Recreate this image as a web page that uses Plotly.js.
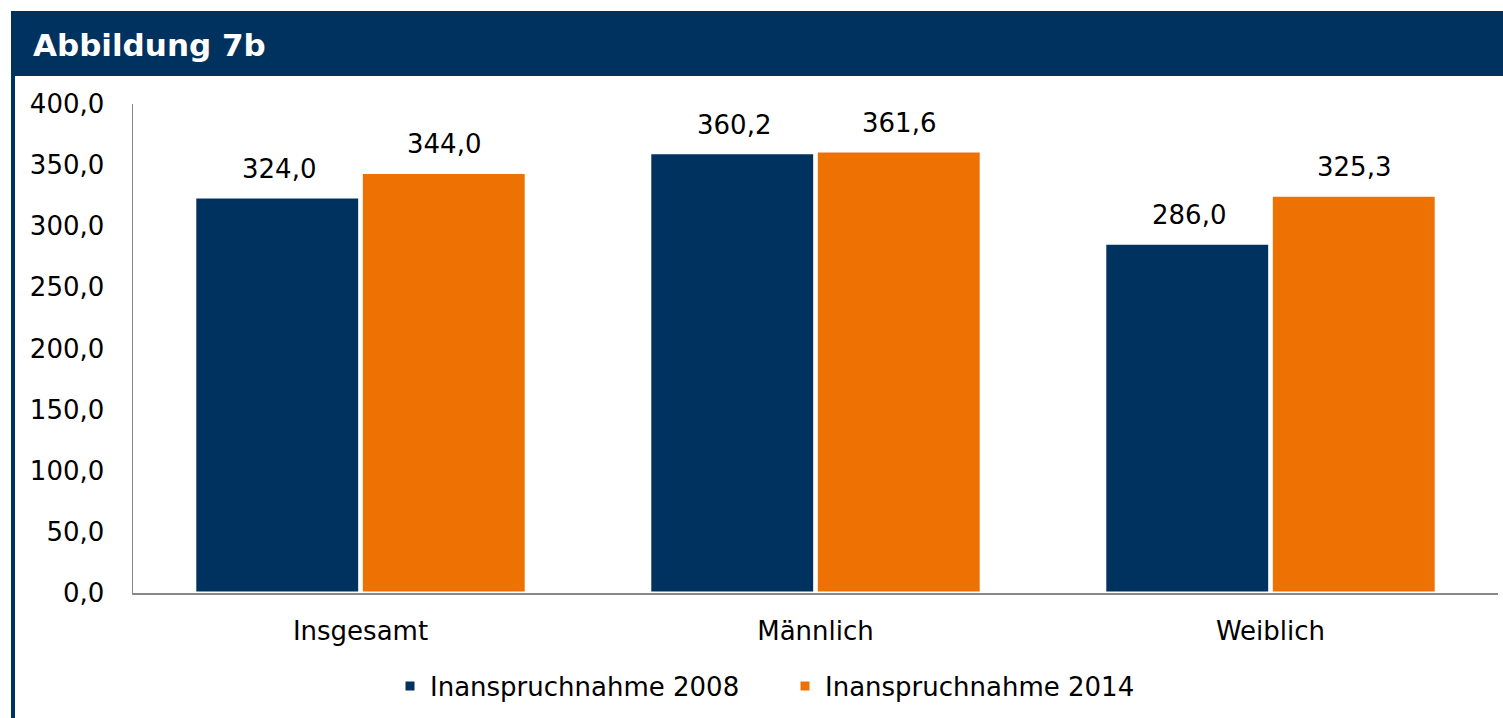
<!DOCTYPE html>
<html>
<head>
<meta charset="utf-8">
<script src="https://cdn.plot.ly/plotly-3.0.1.min.js"></script>
<style>html,body{margin:0;padding:0;background:#fff;}#chart{width:1503px;height:718px;}</style>
</head>
<body>
<div id="chart"></div>
<script>
const categories = ["Insgesamt", "Männlich", "Weiblich"];
const seriesNames = ["Inanspruchnahme 2008", "Inanspruchnahme 2014"];
const values2008 = [324.0, 360.2, 286.0];
const values2014 = [344.0, 361.6, 325.3];
const yTicks = [0, 50, 100, 150, 200, 250, 300, 350, 400];

const NAVY = "#00325F";
const ORANGE = "#EE7203";
const FONT = "DejaVu Sans, Verdana, sans-serif";

function fmt(v) { return v.toFixed(1).replace(".", ","); }

const traces = [
  {type: "bar", name: seriesNames[0], x: categories, y: values2008,
   marker: {color: NAVY, line: {color: "#ffffff", width: 3}}, hoverinfo: "none"},
  {type: "bar", name: seriesNames[1], x: categories, y: values2014,
   marker: {color: ORANGE, line: {color: "#ffffff", width: 3}}, hoverinfo: "none"}
];

const annotations = [];
[values2008, values2014].forEach((vals, si) => {
  vals.forEach((v, i) => {
    annotations.push({
      x: categories[i], y: v, xref: "x", yref: "y",
      text: fmt(v), showarrow: false,
      xshift: si === 0 ? -82 : 83, yanchor: "bottom", yshift: 11,
      font: {family: FONT, size: 26, color: "#000"}
    });
  });
});

const layout = {
  width: 1503, height: 718,
  margin: {l: 133, r: 5, t: 104, b: 125},
  paper_bgcolor: "#ffffff", plot_bgcolor: "#ffffff",
  separators: ",.",
  barmode: "group", bargap: 0.268, bargroupgap: 0.01,
  title: {text: "Abbildung 7b", x: 33/1503, xanchor: "left", xref: "container",
          y: 1 - 45/718, yanchor: "middle", yref: "container",
          font: {family: FONT, size: 31, color: "#ffffff", weight: "bold"}},
  font: {family: FONT, size: 26, color: "#000"},
  xaxis: {showgrid: false, showline: true, linecolor: "#888888", linewidth: 2,
          ticks: "outside", ticklen: 14, tickcolor: "rgba(0,0,0,0)",
          tickfont: {family: FONT, size: 26, color: "#000"}, fixedrange: true},
  yaxis: {range: [0, 400], tickvals: yTicks, tickformat: ".1f", showgrid: false,
          showline: true, linecolor: "#888888", linewidth: 1.5, zeroline: false,
          ticks: "outside", ticklen: 22, tickcolor: "rgba(0,0,0,0)",
          tickfont: {family: FONT, size: 26, color: "#000"}, fixedrange: true},
  legend: {orientation: "h", x: (390-133)/1365, xanchor: "left", y: (593-686)/489, yanchor: "middle",
           entrywidth: 350, entrywidthmode: "pixels",
           font: {family: FONT, size: 26, color: "#000"}, itemclick: false, itemdoubleclick: false},
  annotations: annotations,
  shapes: [
    {type: "rect", xref: "paper", yref: "paper", layer: "below",
     x0: (11-133)/1365, x1: 1.02, y0: (593-76)/489, y1: (593-11)/489,
     fillcolor: NAVY, line: {width: 0}},
    {type: "rect", xref: "paper", yref: "paper", layer: "below",
     x0: (11-133)/1365, x1: (15-133)/1365, y0: -0.3, y1: (593-70)/489,
     fillcolor: NAVY, line: {width: 0}}
  ]
};

Plotly.newPlot("chart", traces, layout, {displayModeBar: false, staticPlot: true});
</script>
</body>
</html>
